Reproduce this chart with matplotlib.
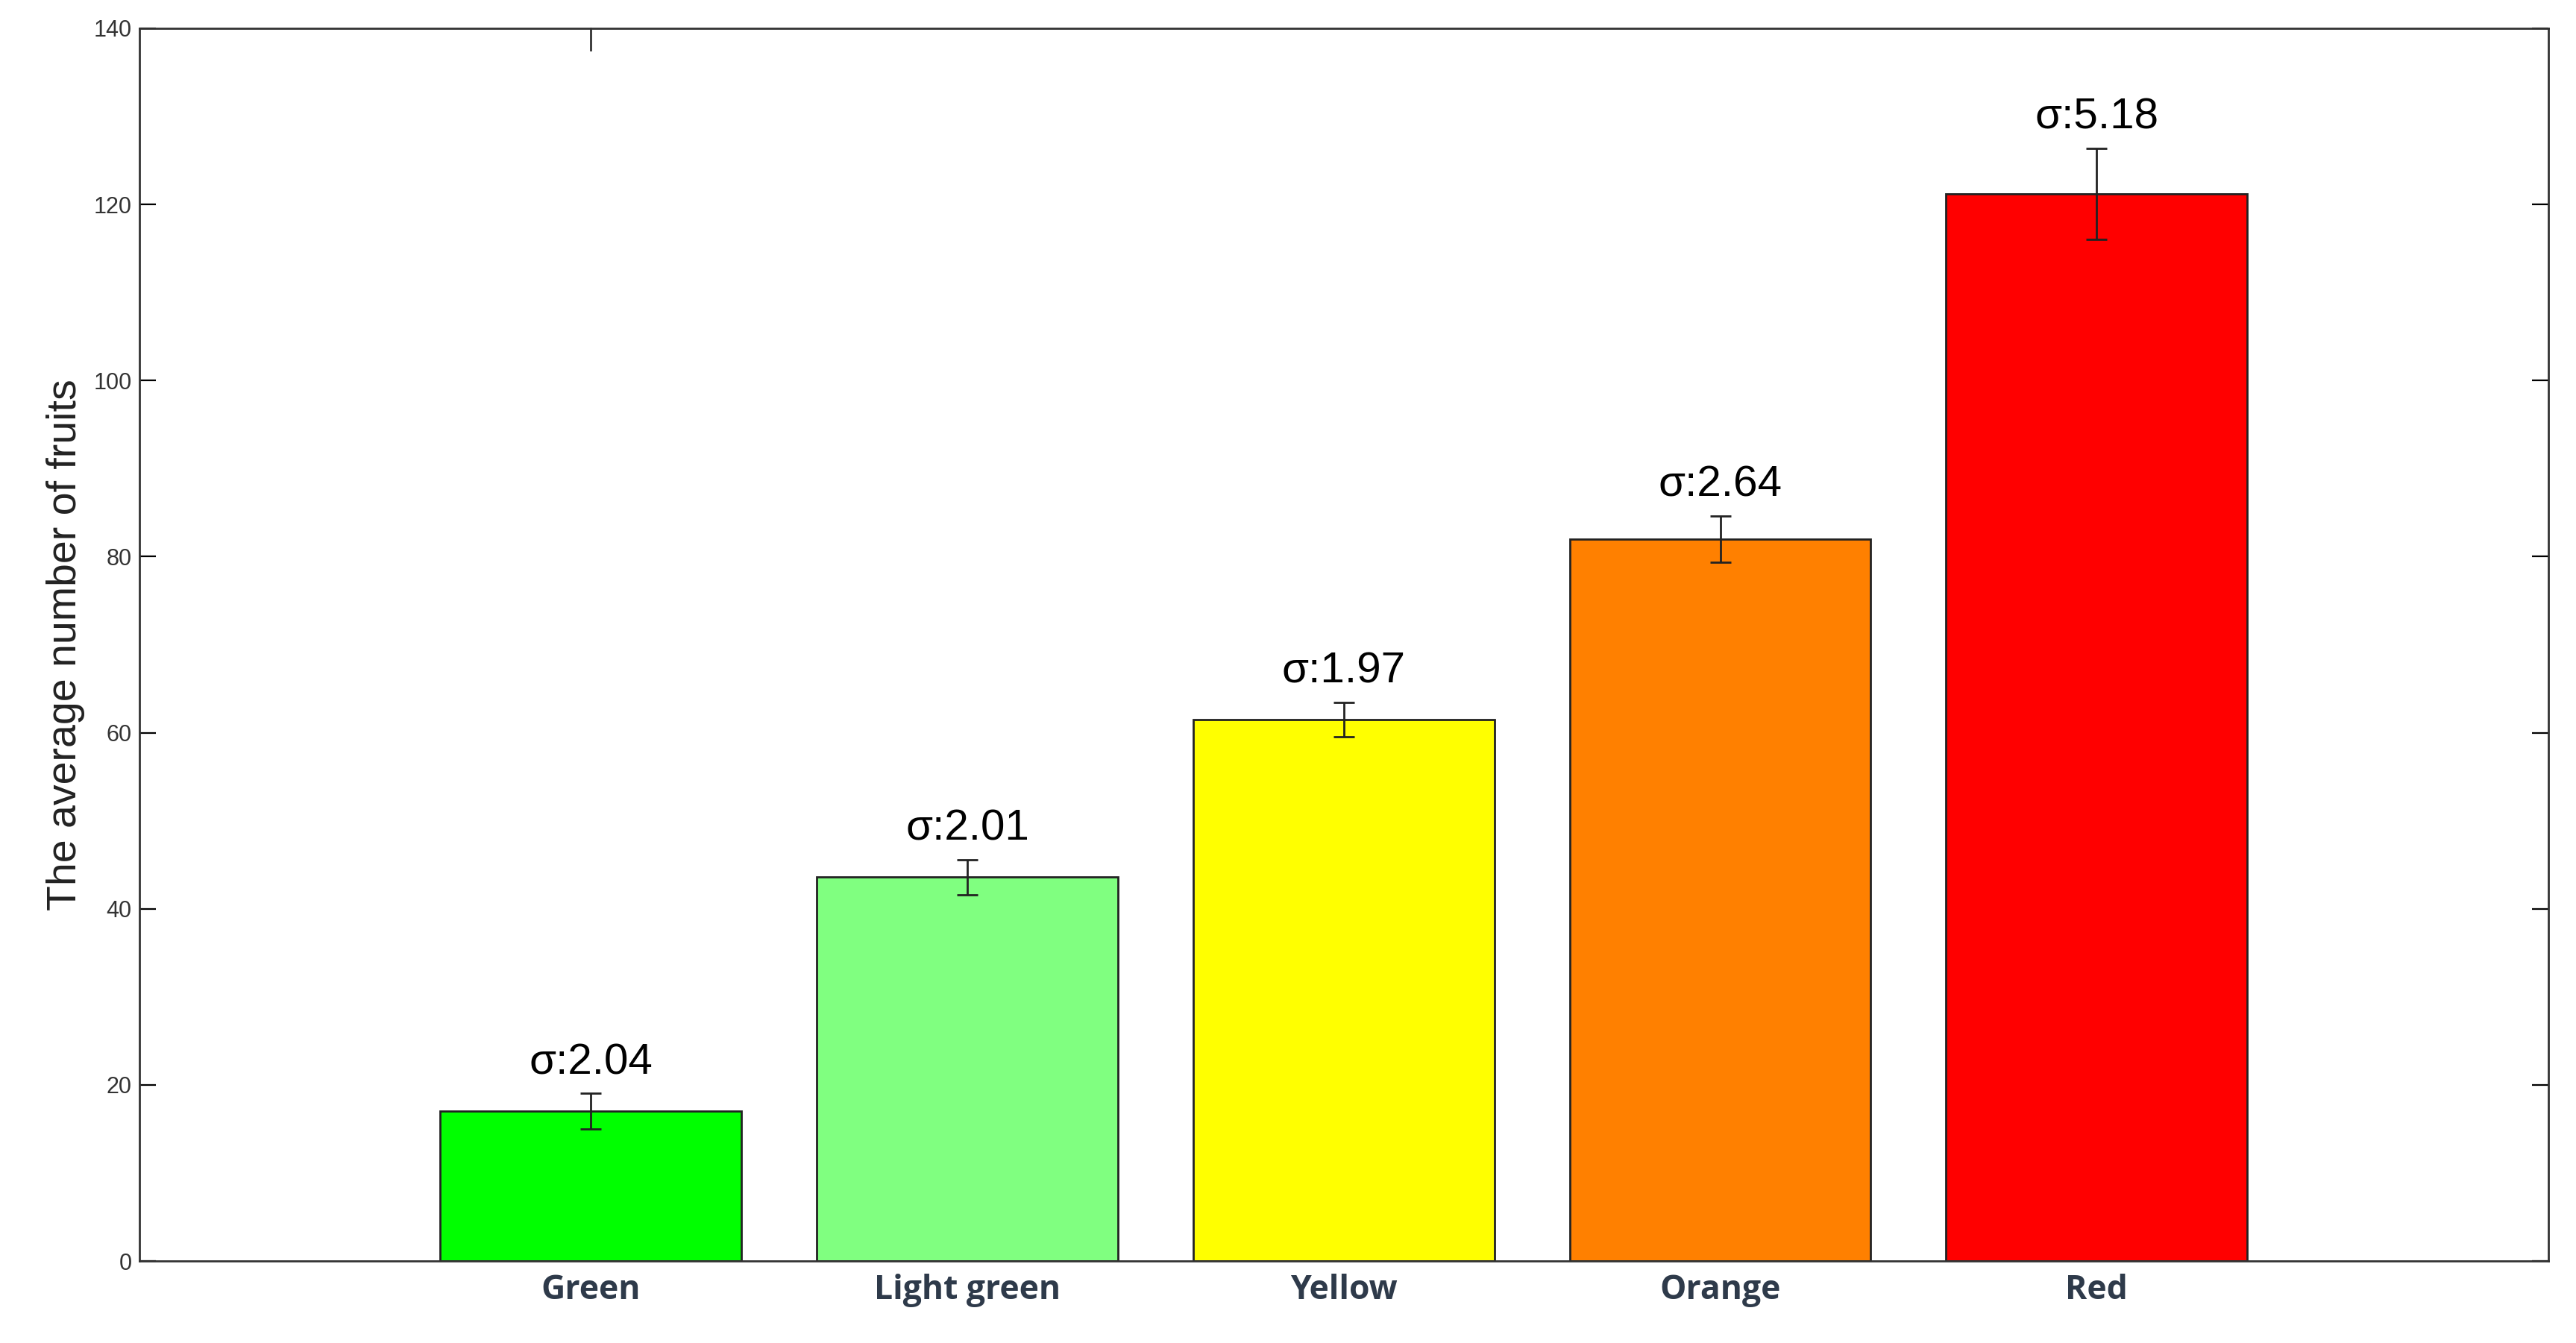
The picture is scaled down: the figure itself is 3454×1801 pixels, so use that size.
import matplotlib.pyplot as plt

categories = ['Green', 'Light green', 'Yellow', 'Orange', 'Red']
means = [17.0, 43.6, 61.5, 82.0, 121.2]
sigmas = [2.04, 2.01, 1.97, 2.64, 5.18]
colors = ['#00ff00', '#80ff80', '#ffff00', '#ff8000', '#ff0000']

plt.rcParams['font.family'] = ['Liberation Sans', 'DejaVu Sans']

fig = plt.figure(figsize=(17.275, 9.005), dpi=200)
ax = fig.add_axes([0.054, 0.061, 0.935, 0.918])

x = list(range(1, len(categories) + 1))
ax.bar(x, means, width=0.8, color=colors, edgecolor='#222222', linewidth=1.0,
       yerr=sigmas, error_kw=dict(ecolor='#222222', elinewidth=1.0, capsize=5, capthick=1.0))

for xi, m, s in zip(x, means, sigmas):
    ax.text(xi, m + s + 1.2, f'σ:{s:.2f}', ha='center', va='bottom', fontsize=21)

ax.set_xlim(-0.2, 6.2)
ax.set_ylim(0, 140)
ax.set_yticks(range(0, 141, 20))
ax.set_xticks(x)
ax.set_xticklabels(categories, fontsize=16, fontweight='bold', color='#2e3a4a',
                   family=['Open Sans', 'DejaVu Sans'])
ax.tick_params(axis='x', length=0, pad=6)
ax.tick_params(axis='y', direction='in', right=True, length=8, labelsize=11, labelcolor='#333333')
# single tick mark on the top edge
ax.plot([1, 1], [140, 137.5], color='#333333', linewidth=1.0, clip_on=False)
ax.set_ylabel('The average number of fruits', fontsize=20, color='#222222')

for sp in ax.spines.values():
    sp.set_color('#333333')
    sp.set_linewidth(1.0)

fig.savefig('out.png', dpi=200)
